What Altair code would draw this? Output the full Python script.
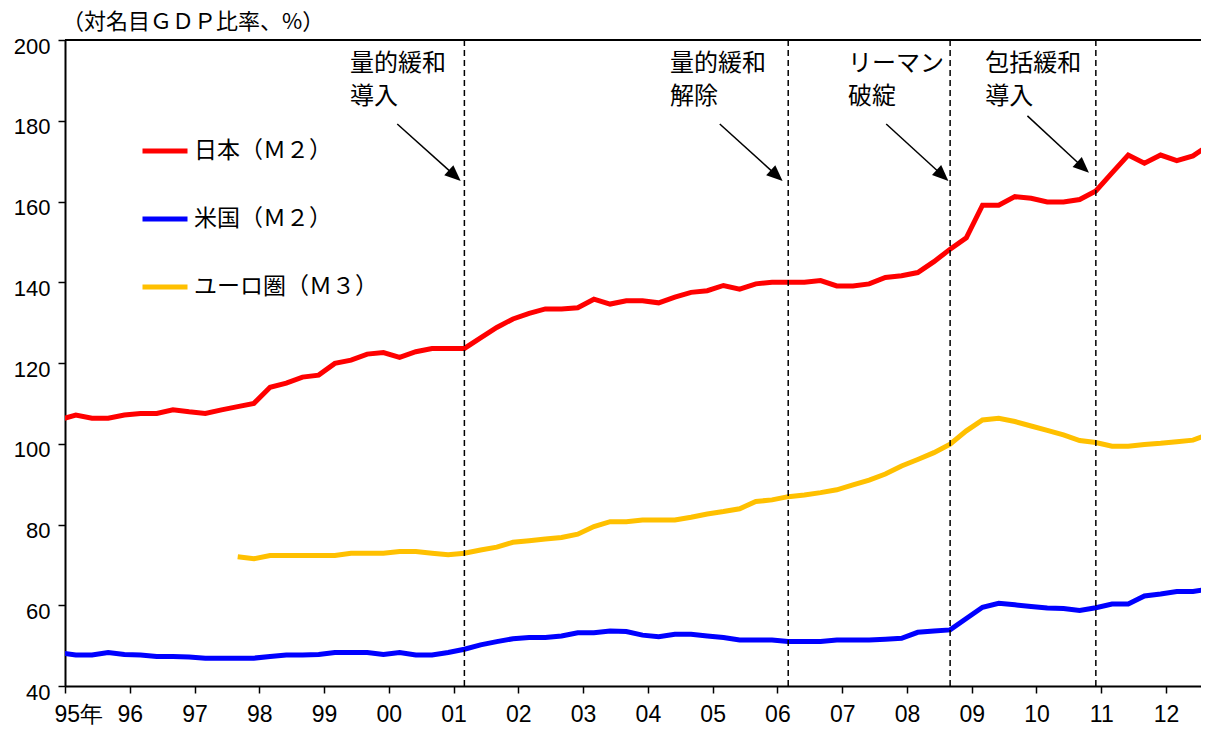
import math
import altair as alt
import pandas as pd

# ---------------- data ----------------
title_text = "（対名目ＧＤＰ比率、%）"
series_names = ["日本（Ｍ２）", "米国（Ｍ２）", "ユーロ圏（Ｍ３）"]
series_colors = ["#FF0000", "#0000FF", "#FFC000"]

# quarter-end months: Dec 1994, Mar 1995, Jun 1995, ... Sep 2012 (fractional years, Jan = .0)
quarters = [1994 + 11 / 12] + [1995 + 2 / 12 + 0.25 * k for k in range(71)]

japan_m2 = [
    106.0,
    107.1, 106.3, 106.3, 107.1, 107.5, 107.5, 108.4, 107.9, 107.5, 108.4, 109.2, 110.0,
    114.0, 115.0, 116.5, 117.0, 119.9, 120.7, 122.2, 122.6,
    121.4, 122.8, 123.6, 123.6, 123.6, 126.2, 128.8, 130.9, 132.3, 133.4,
    133.4, 133.7, 135.8, 134.6, 135.4, 135.4, 134.9, 136.3, 137.5, 137.9,
    139.2, 138.3, 139.6, 140.0, 140.0, 140.0, 140.4, 139.1, 139.1, 139.6,
    141.2, 141.6, 142.4, 145.1, 148.2, 151.0, 159.1, 159.1, 161.2, 160.8,
    159.9, 159.9, 160.5, 162.6, 167.1, 171.5, 169.5, 171.5, 170.1, 171.3,
    174.0,
]
us_m2 = [
    48.2,
    47.7, 47.7, 48.3, 47.8, 47.7, 47.3, 47.3, 47.2, 46.9, 46.9, 46.9, 46.9,
    47.3, 47.7, 47.7, 47.8, 48.3, 48.3, 48.3, 47.8,
    48.3, 47.7, 47.7, 48.3, 49.1, 50.2, 51.0, 51.7, 52.0, 52.0,
    52.4, 53.2, 53.2, 53.6, 53.5, 52.6, 52.2, 52.8, 52.8, 52.4,
    52.0, 51.4, 51.4, 51.4, 51.0, 51.0, 51.0, 51.4, 51.4, 51.4,
    51.6, 51.8, 53.3, 53.6, 53.9, 56.7, 59.5, 60.5, 60.1, 59.7,
    59.3, 59.2, 58.7, 59.4, 60.3, 60.3, 62.3, 62.8, 63.4, 63.4,
    64.0,
]
euro_m3 = [
    None,
    None, None, None, None, None, None, None, None, None, None, 72.0, 71.5,
    72.3, 72.3, 72.3, 72.3, 72.3, 72.9, 72.9, 72.9,
    73.3, 73.3, 72.9, 72.5, 72.9, 73.7, 74.4, 75.6, 76.0, 76.4,
    76.8, 77.6, 79.5, 80.7, 80.7, 81.1, 81.1, 81.1, 81.8, 82.6,
    83.2, 83.9, 85.7, 86.1, 86.9, 87.3, 87.9, 88.6, 89.8, 91.0,
    92.5, 94.5, 96.1, 97.8, 99.9, 103.2, 105.9, 106.3, 105.5, 104.4,
    103.3, 102.2, 100.8, 100.3, 99.4, 99.4, 99.8, 100.1, 100.5, 100.9,
    102.4,
]

x_years = list(range(1995, 2013))
y_ticks = [40, 60, 80, 100, 120, 140, 160, 180, 200]

# policy events (dashed lines) and their annotations
event_dates = [2001 + 2 / 12, 2006 + 2 / 12, 2008 + 8 / 12, 2010 + 11 / 12]
event_labels = ["量的緩和\n導入", "量的緩和\n解除", "リーマン\n破綻", "包括緩和\n導入"]
label_x = [1999.40, 2004.34, 2007.09, 2009.21]
label_y = [194.0, 194.0, 194.0, 194.0]
arrow_from_x = [2000.13, 2005.11, 2007.68, 2009.86]
arrow_from_y = [179.2, 179.2, 179.2, 181.2]
arrow_to_x = [2001.11, 2006.08, 2008.64, 2010.81]
arrow_to_y = [165.1, 165.1, 165.1, 167.1]

# ---------------- chart ----------------
PX_PER_YEAR = 64.765
W, H = 1136, 646
X_DOM = [1995, 1995 + W / PX_PER_YEAR]
Y_DOM = [40, 200]
px_x = W / (X_DOM[1] - X_DOM[0])
px_y = H / (Y_DOM[1] - Y_DOM[0])

rows = []
for name, vals in zip(series_names, [japan_m2, us_m2, euro_m3]):
    for t, v in zip(quarters, vals):
        if v is not None:
            rows.append({"s": name, "t": t, "v": v})
df = pd.DataFrame(rows)

ann = []
for d, lab, lx, ly, fx, fy, tx, ty in zip(event_dates, event_labels, label_x, label_y,
                                          arrow_from_x, arrow_from_y, arrow_to_x, arrow_to_y):
    dxp = (tx - fx) * px_x
    dyp = (fy - ty) * px_y
    ang = math.degrees(math.atan2(dyp, dxp))
    L = math.hypot(dxp, dyp)
    back = 12.0 / L
    ann.append({
        "d": d, "lab": lab, "lx": lx, "ly": ly,
        "fx": fx, "fy": fy, "tx": tx, "ty": ty,
        "ex": tx - (tx - fx) * back, "ey": ty + (fy - ty) * back,
        "ang": ang,
    })
adf = pd.DataFrame(ann)

x_scale = alt.Scale(domain=X_DOM, nice=False, zero=False)
y_scale = alt.Scale(domain=Y_DOM, nice=False, zero=False)

NUM_FONT = "Liberation Sans"
JP_FONT = "Noto Sans CJK JP"

x_axis = alt.Axis(
    values=x_years,
    labelExpr="datum.value == 1995 ? '95年' : substring(toString(datum.value), 2)",
    title=None, grid=False,
    domainColor="black", domainWidth=2,
    tickColor="black", tickSize=7, tickWidth=1.5,
    labelFont=NUM_FONT, labelFontSize=23, labelColor="black",
    labelBaseline="alphabetic", labelPadding=28,
    labelOverlap=False, labelFlush=True, labelFlushOffset=11,
)
y_axis = alt.Axis(
    values=y_ticks, title=None, grid=False,
    domainColor="black", domainWidth=2,
    tickColor="black", tickSize=7, tickWidth=1.5,
    labelFont=NUM_FONT, labelFontSize=22, labelColor="black",
    labelPadding=8, labelOffset=6, labelOverlap=False,
)

lines = alt.Chart(df).mark_line(strokeWidth=5, clip=True).encode(
    x=alt.X("t:Q", scale=x_scale, axis=x_axis),
    y=alt.Y("v:Q", scale=y_scale, axis=y_axis),
    color=alt.Color(
        "s:N",
        scale=alt.Scale(domain=series_names, range=series_colors),
        sort=series_names,
        legend=alt.Legend(
            title=None, orient="none", legendX=75, legendY=86,
            symbolType="stroke", symbolSize=2025, symbolStrokeWidth=5,
            labelFont=JP_FONT, labelFontSize=23, labelColor="black",
            labelOffset=4, rowPadding=31, padding=0, labelLimit=400,
        ),
    ),
)

top_line = alt.Chart(df).mark_rule(color="black", strokeWidth=2).encode(
    y=alt.datum(200, scale=y_scale)
)

vlines = alt.Chart(adf).mark_rule(color="black", strokeWidth=1.5, strokeDash=[6, 4]).encode(
    x=alt.X("d:Q", scale=x_scale)
)

labels = alt.Chart(adf).mark_text(
    align="left", baseline="middle", lineBreak="\n", lineHeight=33,
    font=JP_FONT, fontSize=24, color="black",
).encode(x=alt.X("lx:Q", scale=x_scale), y=alt.Y("ly:Q", scale=y_scale), text="lab:N")

arrow_shaft = alt.Chart(adf).mark_rule(color="black", strokeWidth=1.5).encode(
    x=alt.X("fx:Q", scale=x_scale), y=alt.Y("fy:Q", scale=y_scale),
    x2="ex:Q", y2="ey:Q",
)

arrow_head = alt.Chart(adf).mark_point(
    shape="M0,0L-2,-0.85L-2,0.85Z", filled=True, size=256, color="black", opacity=1,
    strokeWidth=0,
).encode(
    x=alt.X("tx:Q", scale=x_scale), y=alt.Y("ty:Q", scale=y_scale),
    angle=alt.Angle("ang:Q", scale=None),
)

# unit label above the plot, drawn just above the 200 line
title_mark = alt.Chart(pd.DataFrame({"txt": [title_text]})).mark_text(
    align="left", baseline="middle", font=JP_FONT, fontSize=22, color="black", dx=-3,
).encode(
    x=alt.datum(X_DOM[0], scale=x_scale),
    y=alt.datum(Y_DOM[1] + 18 / px_y, scale=y_scale),
    text="txt:N",
)

chart = alt.layer(lines, top_line, vlines, arrow_shaft, arrow_head, labels, title_mark).properties(
    width=W, height=H,
    padding={"left": 57, "top": 32, "right": 0, "bottom": 41},
    autosize=alt.AutoSizeParams(type="none"),
).configure_view(stroke=None).configure(background="white")

chart.save("out.html", embed_options={"renderer": "svg", "actions": False})
